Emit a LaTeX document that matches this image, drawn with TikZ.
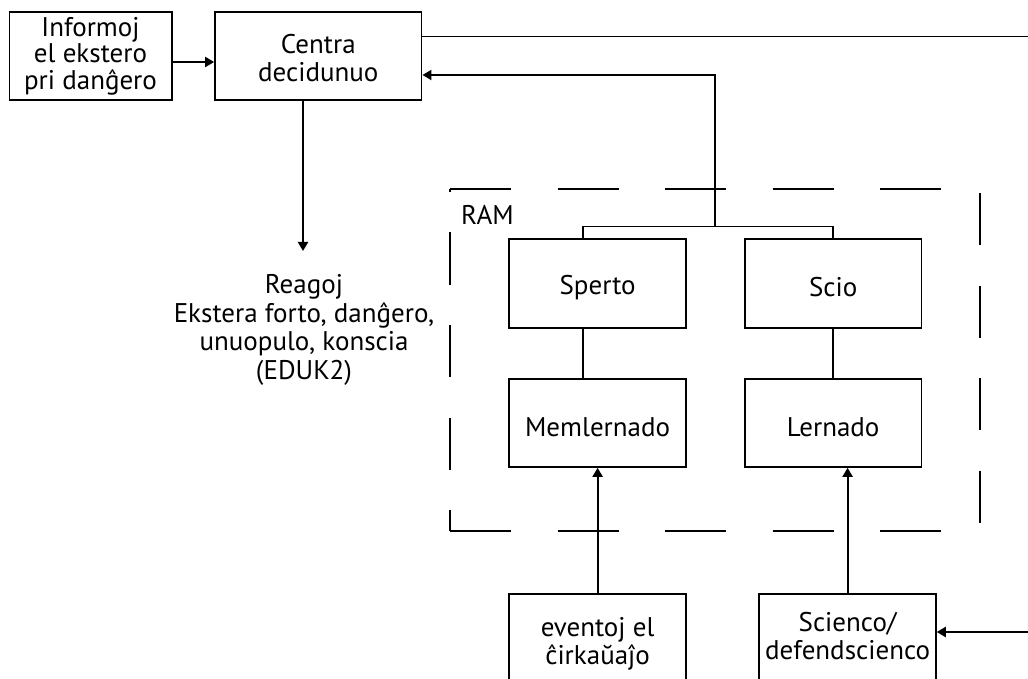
\documentclass[tikz,border=0pt]{standalone}
\usepackage{fontspec}
\setmainfont{PT Sans}
\usetikzlibrary{arrows.meta}
\begin{document}
\begin{tikzpicture}[x=1pt,y=-1pt,
  font=\fontsize{27}{28.5}\selectfont,
  box/.style={draw, line width=1.6pt, inner sep=0pt},
  txt/.style={align=center, inner sep=0pt},
  wire/.style={line width=1.6pt},
  arr/.style={line width=2pt, -{Triangle[length=9pt,width=10pt]}},
  dashh/.style={line width=1.7pt, dash pattern=on 61pt off 46.5pt},
  dashv/.style={line width=1.7pt, dash pattern=on 52pt off 40.5pt}
]
\clip (0,0) rectangle (1028,679);
\fill[white] (0,0) rectangle (1028,679);

% boxes
\node[box, minimum width=162.4pt, minimum height=88.3pt,
  label={[txt, font=\fontsize{27}{26.5}\selectfont]center:{Informoj\\el ekstero\\pri danĝero}}] (info) at (90.5,56) {};
\node[box, minimum width=206.7pt, minimum height=88.3pt,
  label={[txt, yshift=-2pt]center:{Centra\\decidunuo}}] (centra) at (318.3,56) {};
\node[box, minimum width=177pt, minimum height=88.5pt,
  label={[txt, yshift=-4pt]center:Sperto}] (sperto) at (597.6,283.5) {};
\node[box, minimum width=176.5pt, minimum height=88.5pt,
  label={[txt, yshift=-4pt]center:Scio}] (scio) at (833.2,283.5) {};
\node[box, minimum width=177pt, minimum height=88pt,
  label={[txt, yshift=-4pt]center:Memlernado}] (memlern) at (597.6,423) {};
\node[box, minimum width=176.5pt, minimum height=88pt,
  label={[txt, yshift=-4pt]center:Lernado}] (lernado) at (833.2,423) {};
\node[box, minimum width=177pt, minimum height=100pt,
  label={[txt]center:{eventoj el\\ĉirkaŭaĵo}}] (eventoj) at (597.6,644) {};
\node[box, minimum width=176.7pt, minimum height=100pt,
  label={[txt, yshift=8pt]center:{Scienco/\\defendscienco}}] (scienco) at (847.6,644) {};

% texts
\node[txt] (reagoj) at (304,330) {Reagoj\\Ekstera forto, danĝero,\\unuopulo, konscia\\(EDUK2)};
\node[anchor=west, inner sep=0pt] (ram) at (461,215) {RAM};

% dashed RAM frame
\draw[dashh] (450,189) -- (980,189);
\draw[dashh] (450,531) -- (980,531);
\draw[dashv, dash phase=31pt] (450,531) -- (450,189);
\draw[dashv, dash phase=88.5pt] (980,189) -- (980,531);

% coordinates
\coordinate (row62) at (0,62);
\coordinate (row75) at (0,75);
\coordinate (topR) at (1028,36.7);
\coordinate (join) at (715.4,226.7);
\coordinate (tl) at (582.7,226.7);
\coordinate (tr) at (832.9,226.7);
\coordinate (dn) at (303,251);
\coordinate (inR) at (1028,632);

% connectors
\draw[arr] (info.east |- row62) -- (centra.west |- row62);
\draw[wire] (centra.east |- topR) -- (topR);
\draw[arr] (join) |- (centra.east |- row75);
\draw[wire] (tl |- sperto.north) -- (tl) -- (tr) -- (tr |- scio.north);
\draw[wire] (tl |- sperto.south) -- (tl |- memlern.north);
\draw[wire] (tr |- scio.south) -- (tr |- lernado.north);
\draw[arr] (dn |- centra.south) -- (dn);
\draw[arr] (eventoj.north) -- (eventoj.north |- memlern.south);
\draw[arr] (scienco.north) -- (scienco.north |- lernado.south);
\draw[arr] (inR) -- (scienco.east |- inR);
\end{tikzpicture}
\end{document}
